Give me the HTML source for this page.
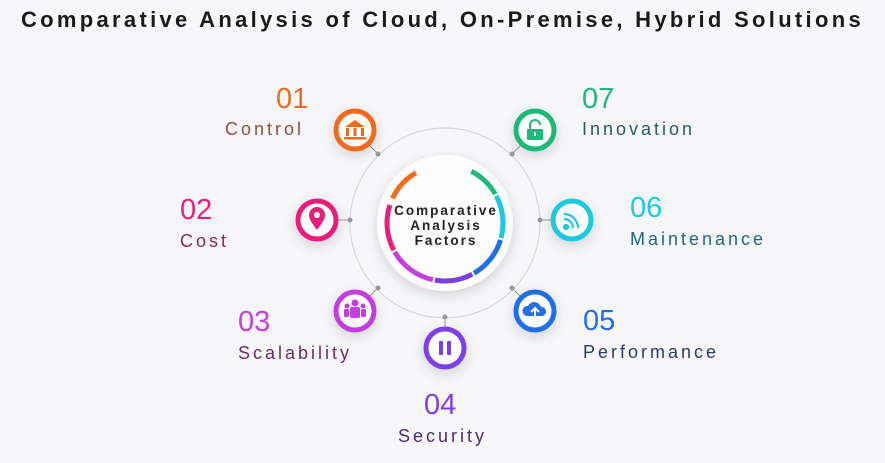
<!DOCTYPE html>
<html><head><meta charset="utf-8"><style>
body{margin:0;width:885px;height:463px;background:#f7f7fa;font-family:"Liberation Sans",sans-serif;position:relative;overflow:hidden}
.t{position:absolute;left:0;width:885px;top:7px;text-align:center;font-weight:bold;font-size:22px;letter-spacing:3.3px;color:#1a1a1a;white-space:nowrap}
.n{position:absolute;font-size:29px;font-weight:300}
.l{position:absolute;font-size:18px;letter-spacing:3px}
</style></head><body>
<div class="t">Comparative Analysis of Cloud, On-Premise, Hybrid Solutions</div>
<svg width="885" height="463" style="position:absolute;left:0;top:0">
<defs><filter id="sh" x="-50%" y="-50%" width="200%" height="200%"><feDropShadow dx="0" dy="4" stdDeviation="6" flood-color="#000" flood-opacity="0.15"/></filter></defs>
<circle cx="445" cy="223" r="95" fill="none" stroke="#d8d8dc" stroke-width="1.2"/>
<g stroke="#999" stroke-width="1">
<line x1="366" y1="142" x2="378" y2="154"/><line x1="524" y1="142" x2="512" y2="154"/>
<line x1="337" y1="220" x2="350" y2="220"/><line x1="552" y1="220" x2="540" y2="220"/>
<line x1="366" y1="300" x2="378" y2="288"/><line x1="524" y1="300" x2="512" y2="288"/>
<line x1="445" y1="328" x2="445" y2="317"/>
</g>
<g fill="#999"><circle cx="378" cy="154" r="2.5"/><circle cx="512" cy="154" r="2.5"/><circle cx="350" cy="220" r="2.5"/><circle cx="540" cy="220" r="2.5"/><circle cx="378" cy="288" r="2.5"/><circle cx="512" cy="288" r="2.5"/><circle cx="445" cy="317" r="2.5"/></g>
<circle cx="445" cy="223" r="68" fill="#fdfdfd" filter="url(#sh)"/>
<g fill="none" stroke-width="5">
<circle cx="445" cy="223" r="58" stroke="#f26a1b" stroke-dasharray="35.4 999" transform="rotate(205 445 223)"/>
<circle cx="445" cy="223" r="58" stroke="#e91e7a" stroke-dasharray="46.6 999" transform="rotate(152 445 223)"/>
<circle cx="445" cy="223" r="58" stroke="#c43ee0" stroke-dasharray="48.6 999" transform="rotate(102 445 223)"/>
<circle cx="445" cy="223" r="58" stroke="#7b3fe6" stroke-dasharray="38.5 999" transform="rotate(62 445 223)"/>
<circle cx="445" cy="223" r="58" stroke="#1f6fe8" stroke-dasharray="43.5 999" transform="rotate(17 445 223)"/>
<circle cx="445" cy="223" r="58" stroke="#1ec8e0" stroke-dasharray="43.5 999" transform="rotate(-28 445 223)"/>
<circle cx="445" cy="223" r="58" stroke="#1db87a" stroke-dasharray="33.4 999" transform="rotate(-63 445 223)"/>
</g>
<g font-family="Liberation Sans" font-weight="bold" font-size="13.5" letter-spacing="2" fill="#222" text-anchor="middle">
<text x="446" y="215">Comparative</text><text x="446" y="230">Analysis</text><text x="446" y="245">Factors</text></g>
<g filter="url(#sh)" fill="#fff" stroke-width="5">
<circle cx="355" cy="130" r="19" stroke="#f26a1b"/>
<circle cx="535" cy="130" r="19" stroke="#1db87a"/>
<circle cx="317" cy="220" r="19" stroke="#e91e7a"/>
<circle cx="572" cy="220" r="19" stroke="#1ec8e0"/>
<circle cx="355" cy="311" r="19" stroke="#c43ee0"/>
<circle cx="535" cy="311" r="19" stroke="#1f6fe8"/>
<circle cx="445" cy="348" r="19" stroke="#7b3fe6"/>
</g>
<g fill="#f26a1b"><polygon points="345,127 355,120 365,127"/><rect x="346" y="128" width="3" height="8"/><rect x="353.5" y="128" width="3" height="8"/><rect x="361" y="128" width="3" height="8"/><rect x="344" y="137" width="22" height="2.5"/></g>
<g fill="#1db87a"><rect x="527" y="129" width="16" height="11" rx="1"/><path d="M530,129 v-4 a5,5 0 0 1 10,0" fill="none" stroke="#1db87a" stroke-width="2"/><rect x="534" y="132" width="2" height="4" fill="#fff"/></g>
<g><path d="M317,230 C311,222 309,219 309,215 a8,8 0 0 1 16,0 c0,4 -2,7 -8,15z" fill="#e91e7a"/><circle cx="317" cy="215" r="3" fill="#fff"/></g>
<g fill="none" stroke="#1ec8e0" stroke-width="2.2"><circle cx="566" cy="227" r="2" fill="#1ec8e0"/><path d="M564,219 a9,9 0 0 1 9,9"/><path d="M564,214 a14,14 0 0 1 14,14"/></g>
<g fill="#c43ee0"><circle cx="355" cy="303" r="3.5"/><rect x="350" y="307" width="10" height="11" rx="2"/><circle cx="347" cy="306" r="2.5"/><rect x="344" y="309" width="5" height="8" rx="1.5"/><circle cx="363" cy="306" r="2.5"/><rect x="361" y="309" width="5" height="8" rx="1.5"/></g>
<g><path d="M527,316 a5,5 0 0 1 1,-10 a7,7 0 0 1 13,1 a4.5,4.5 0 0 1 1,9z" fill="#1f6fe8"/><path d="M535,317 v-8 M531,312 l4,-4 l4,4" stroke="#fff" stroke-width="2" fill="none"/></g>
<g fill="#7b3fe6"><rect x="439" y="341" width="4" height="14" rx="1"/><rect x="447" y="341" width="4" height="14" rx="1"/></g>
</svg>
<div class="n" style="left:276px;top:83px;color:#f26a1b">01</div>
<div class="l" style="left:225px;top:119px;color:#9a4a3a">Control</div>
<div class="n" style="left:180px;top:194px;color:#e91e7a">02</div>
<div class="l" style="left:180px;top:231px;color:#8a2a4a">Cost</div>
<div class="n" style="left:238px;top:306px;color:#c43ee0">03</div>
<div class="l" style="left:238px;top:343px;color:#6a2a6a">Scalability</div>
<div class="n" style="left:424px;top:389px;color:#7b3fe6">04</div>
<div class="l" style="left:398px;top:426px;color:#4a2a7a">Security</div>
<div class="n" style="left:583px;top:305px;color:#1f6fe8">05</div>
<div class="l" style="left:583px;top:342px;color:#2a3a6a">Performance</div>
<div class="n" style="left:630px;top:192px;color:#1ec8e0">06</div>
<div class="l" style="left:630px;top:229px;color:#1a6a7a">Maintenance</div>
<div class="n" style="left:582px;top:83px;color:#1db87a">07</div>
<div class="l" style="left:582px;top:119px;color:#2a5a5a">Innovation</div>
</body></html>
